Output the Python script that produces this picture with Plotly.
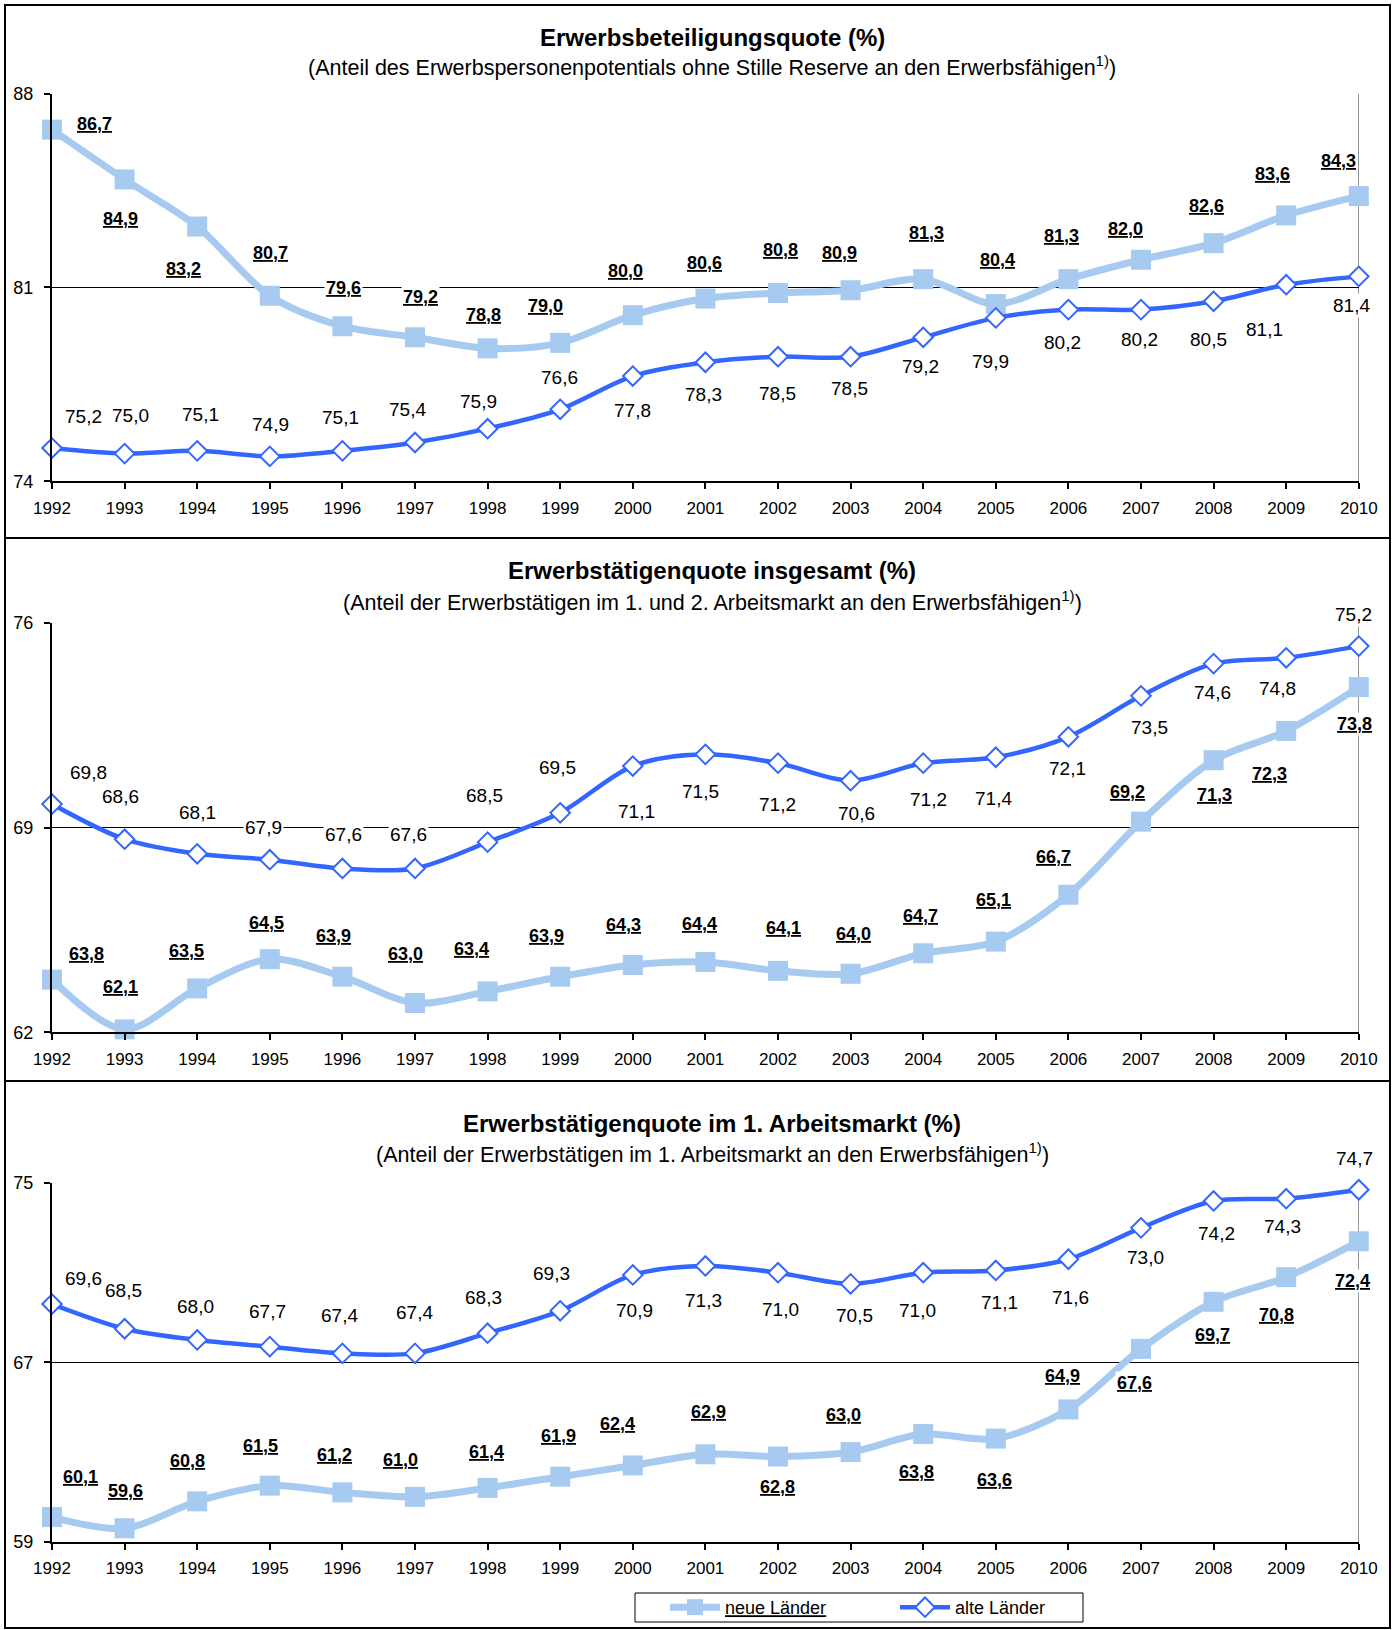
import plotly.graph_objects as go

years = list(range(1992, 2011))

# Panel 1: Erwerbsbeteiligungsquote
p1_neue = [86.7, 84.9, 83.2, 80.7, 79.6, 79.2, 78.8, 79.0, 80.0, 80.6, 80.8, 80.9, 81.3, 80.4, 81.3, 82.0, 82.6, 83.6, 84.3]
p1_alte = [75.2, 75.0, 75.1, 74.9, 75.1, 75.4, 75.9, 76.6, 77.8, 78.3, 78.5, 78.5, 79.2, 79.9, 80.2, 80.2, 80.5, 81.1, 81.4]
p1_ticks = [74, 81, 88]

# Panel 2: Erwerbstätigenquote insgesamt
p2_neue = [63.8, 62.1, 63.5, 64.5, 63.9, 63.0, 63.4, 63.9, 64.3, 64.4, 64.1, 64.0, 64.7, 65.1, 66.7, 69.2, 71.3, 72.3, 73.8]
p2_alte = [69.8, 68.6, 68.1, 67.9, 67.6, 67.6, 68.5, 69.5, 71.1, 71.5, 71.2, 70.6, 71.2, 71.4, 72.1, 73.5, 74.6, 74.8, 75.2]
p2_ticks = [62, 69, 76]

# Panel 3: Erwerbstätigenquote im 1. Arbeitsmarkt
p3_neue = [60.1, 59.6, 60.8, 61.5, 61.2, 61.0, 61.4, 61.9, 62.4, 62.9, 62.8, 63.0, 63.8, 63.6, 64.9, 67.6, 69.7, 70.8, 72.4]
p3_alte = [69.6, 68.5, 68.0, 67.7, 67.4, 67.4, 68.3, 69.3, 70.9, 71.3, 71.0, 70.5, 71.0, 71.1, 71.6, 73.0, 74.2, 74.3, 74.7]
p3_ticks = [59, 67, 75]

titles = ["Erwerbsbeteiligungsquote (%)",
          "Erwerbstätigenquote insgesamt (%)",
          "Erwerbstätigenquote im 1. Arbeitsmarkt (%)"]
subtitles = ["(Anteil des Erwerbspersonenpotentials ohne Stille Reserve an den Erwerbsfähigen<sup>1)</sup>)",
             "(Anteil der Erwerbstätigen im 1. und 2. Arbeitsmarkt an den Erwerbsfähigen<sup>1)</sup>)",
             "(Anteil der Erwerbstätigen im 1. Arbeitsmarkt an den Erwerbsfähigen<sup>1)</sup>)"]
series_names = ["neue Länder", "alte Länder"]

# ---- label offsets (pixels, dx right, dy down) ----
p1_neue_off = [(42, -6), (-4, 40), (-14, 42), (1, -43), (1, -38), (5, -40), (-4, -33), (-15, -37), (-7, -44), (-1, -36),
               (2, -43), (-11, -37), (3, -46), (2, -44), (-7, -43), (-16, -31), (-7, -37), (-14, -41), (-20, -35)]
p1_alte_off = [(31, -32), (6, -38), (3, -36), (1, -32), (-2, -33), (-8, -33), (-9, -27), (-1, -32), (0, 34), (-2, 32),
               (-1, 37), (-1, 32), (-3, 29), (-5, 44), (-6, 33), (-2, 30), (-5, 38), (-22, 45), (-7, 29)]
p2_neue_off = [(34, -26), (-4, -42), (-11, -37), (-3, -36), (-9, -41), (-10, -49), (-16, -42), (-14, -41), (-9, -40), (-6, -38),
               (5, -43), (3, -40), (-3, -37), (-2, -42), (-15, -38), (-14, -30), (1, 35), (-17, 43), (-4, 37)]
p2_alte_off = [(36, -32), (-4, -43), (0, -41), (-6, -32), (1, -34), (-7, -34), (-3, -47), (-3, -45), (4, 45), (-5, 37),
               (-1, 41), (6, 33), (5, 36), (-2, 41), (-1, 32), (8, 32), (-1, 29), (-9, 31), (-5, -32)]
p3_neue_off = [(28, -40), (1, -37), (-10, -40), (-9, -40), (-8, -37), (-15, -37), (-1, -36), (-2, -41), (-15, -41), (3, -42),
               (-1, 30), (-7, -37), (-7, 38), (-1, 41), (-6, -33), (-7, 34), (-1, 33), (-10, 38), (-6, 40)]
p3_alte_off = [(31, -26), (-1, -38), (-2, -33), (-2, -35), (-3, -38), (-1, -41), (-4, -36), (-9, -37), (2, 36), (-2, 35),
               (2, 37), (4, 32), (-6, 38), (4, 32), (2, 38), (4, 30), (3, 33), (-4, 28), (-4, -31)]

W, H = 1393, 1630
FONT = "Liberation Sans, Arial, sans-serif"
LIGHT = "#A7CAF0"
DARK = "#3366FF"

# plot areas in pixels (top, bottom)
panel_y = [(93.6, 481.3), (622.7, 1032.3), (1183.0, 1541.7)]
panel_box = [(5, 538), (538, 1081), (1081, 1628)]
title_y = [(37.4, 66.5), (570, 601), (1123, 1153)]
x_px = (52.0, 1358.8)
legend_box = (635, 1083, 1593, 1622)

panels = [
    (p1_neue, p1_alte, p1_ticks, p1_neue_off, p1_alte_off),
    (p2_neue, p2_alte, p2_ticks, p2_neue_off, p2_alte_off),
    (p3_neue, p3_alte, p3_ticks, p3_neue_off, p3_alte_off),
]

fig = go.Figure()
annotations = []
shapes = []
layout = dict(
    width=W, height=H,
    margin=dict(l=0, r=0, t=0, b=0, autoexpand=False),
    paper_bgcolor="white", plot_bgcolor="white",
    font=dict(family=FONT, color="black"),
    showlegend=True,
)

def fmt(v):
    return f"{v:.1f}".replace(".", ",")

xdom = [x_px[0] / W, x_px[1] / W]

for i, (neue, alte, ticks, noff, aoff) in enumerate(panels):
    n = i + 1
    xa = "x" if n == 1 else f"x{n}"
    ya = "y" if n == 1 else f"y{n}"
    xkey = "xaxis" if n == 1 else f"xaxis{n}"
    ykey = "yaxis" if n == 1 else f"yaxis{n}"
    top, bot = panel_y[i]
    ydom = [1 - bot / H, 1 - top / H]

    layout[xkey] = dict(
        domain=xdom, anchor=ya, range=[years[0], years[-1]],
        tickmode="array", tickvals=years, ticktext=[str(y) for y in years],
        ticks="outside", ticklen=6, tickwidth=2, tickcolor="black",
        showline=True, linecolor="black", linewidth=2,
        showgrid=False, zeroline=False, automargin=False,
        tickfont=dict(size=17, family=FONT), ticklabelstandoff=4,
    )
    layout[ykey] = dict(
        domain=ydom, anchor=xa, range=[ticks[0], ticks[-1]],
        tickmode="array", tickvals=ticks,
        ticks="outside", ticklen=6, tickwidth=1.5, tickcolor="black",
        showline=True, linecolor="black", linewidth=2,
        showgrid=True, gridcolor="black", gridwidth=1, zeroline=False, automargin=False,
        tickfont=dict(size=18, family=FONT), ticklabelstandoff=7,
    )
    # overlay axis for ticks crossing the axis line
    okey = f"xaxis{n + 3}"
    layout[okey] = dict(
        domain=xdom, anchor=ya, overlaying=xa, range=[years[0], years[-1]],
        tickmode="array", tickvals=years, ticks="inside", ticklen=6, tickwidth=2,
        tickcolor="black", showticklabels=False, showline=False, showgrid=False,
        zeroline=False, automargin=False,
    )

    fig.add_trace(go.Scatter(
        x=years, y=neue, xaxis=xa, yaxis=ya, mode="lines+markers",
        name=f"<u>{series_names[0]}</u>", legendgroup="neue", showlegend=(n == 1),
        line=dict(color=LIGHT, width=7, shape="spline", smoothing=0.9),
        marker=dict(symbol="square", size=20, color=LIGHT),
        cliponaxis=False, hoverinfo="x+y",
    ))
    fig.add_trace(go.Scatter(
        x=years, y=alte, xaxis=xa, yaxis=ya, mode="lines+markers",
        name=series_names[1], legendgroup="alte", showlegend=(n == 1),
        line=dict(color=DARK, width=4.5, shape="spline", smoothing=0.9),
        marker=dict(symbol="diamond", size=15, color="white", line=dict(color=DARK, width=2)),
        cliponaxis=False, hoverinfo="x+y",
    ))

    # right border at last year
    shapes.append(dict(type="line", xref=xa, yref=f"{ya} domain", x0=years[-1], x1=years[-1],
                       y0=0, y1=1, line=dict(color="#404040", width=1), layer="below"))
    # panel frame
    b0, b1 = panel_box[i]
    shapes.append(dict(type="rect", xref="paper", yref="paper", x0=5 / W, x1=1390 / W,
                       y0=1 - b1 / H, y1=1 - b0 / H, line=dict(color="black", width=2)))

    # titles
    ty, sy = title_y[i]
    annotations.append(dict(text=f"<b>{titles[i]}</b>", xref="paper", yref="paper", x=712 / W, y=1 - ty / H,
                            xanchor="center", yanchor="middle", showarrow=False,
                            font=dict(size=24, family=FONT, color="black")))
    annotations.append(dict(text=subtitles[i], xref="paper", yref="paper", x=712 / W, y=1 - sy / H,
                            xanchor="center", yanchor="middle", showarrow=False,
                            font=dict(size=21.5, family=FONT, color="black")))

    # data labels
    for yr, v, (dx, dy) in zip(years, neue, noff):
        annotations.append(dict(text=f"<b><u>{fmt(v)}</u></b>", x=yr, y=v, xref=xa, yref=ya,
                                xshift=dx, yshift=-dy, showarrow=False, bgcolor="white", borderpad=1,
                                font=dict(size=18, family=FONT, color="black")))
    for yr, v, (dx, dy) in zip(years, alte, aoff):
        annotations.append(dict(text=fmt(v), x=yr, y=v, xref=xa, yref=ya,
                                xshift=dx, yshift=-dy, showarrow=False, bgcolor="white", borderpad=1,
                                font=dict(size=19, family=FONT, color="black")))

# legend frame
lx0, lx1, ly0, ly1 = legend_box
shapes.append(dict(type="rect", xref="paper", yref="paper", x0=lx0 / W, x1=lx1 / W,
                   y0=1 - ly1 / H, y1=1 - ly0 / H, line=dict(color="black", width=1),
                   fillcolor="white", layer="below"))

layout["annotations"] = annotations
layout["shapes"] = shapes
layout["legend"] = dict(
    orientation="h", x=(lx0 + 30) / W, y=1 - (ly0 + (ly1 - ly0) / 2) / H, xanchor="left", yanchor="middle",
    borderwidth=0, bgcolor="rgba(0,0,0,0)",
    font=dict(size=18, family=FONT, color="black"),
    entrywidth=165, itemwidth=50,
)

fig.update_layout(**layout)
fig.write_html(
    "out.html",
    config={"displayModeBar": False},
    post_script="document.body.style.margin='0';document.body.style.overflow='hidden';",
)
